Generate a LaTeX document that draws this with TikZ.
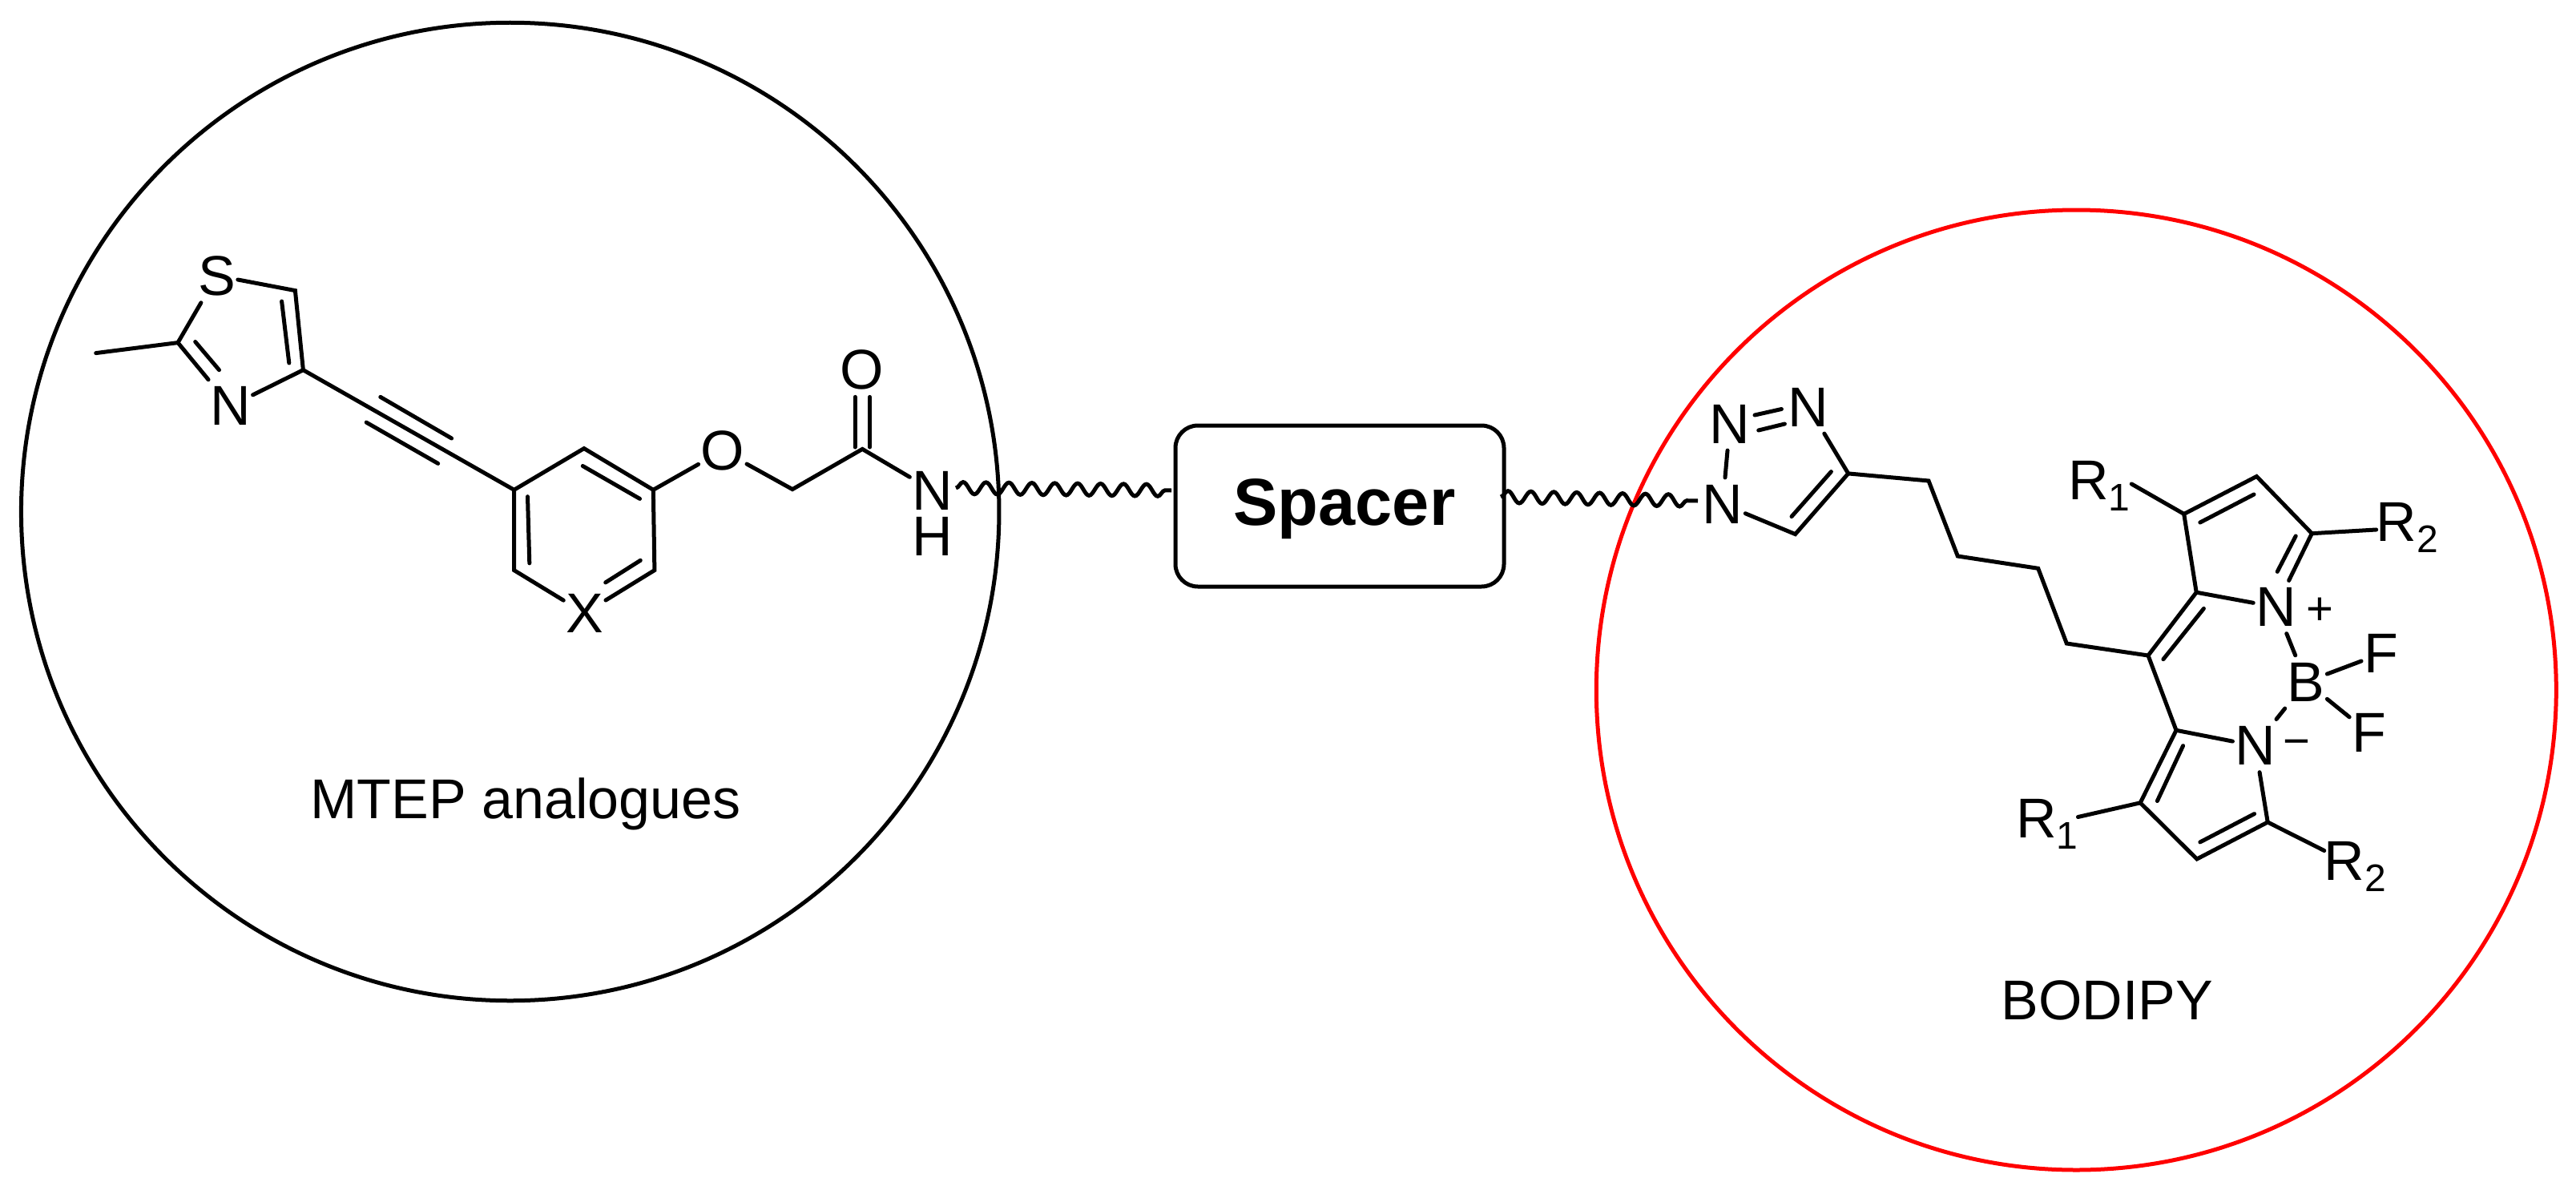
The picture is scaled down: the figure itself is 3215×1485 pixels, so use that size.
\documentclass[tikz,border=0pt]{standalone}
\usepackage{fontspec}
\setmainfont{Liberation Sans}
\usetikzlibrary{decorations.pathmorphing}
\newcommand{\Rlab}[1]{R\raisebox{-14pt}{\fontsize{48}{48}\selectfont #1}}
\newcommand{\innerb}[3]{\coordinate (ia) at (#2); \coordinate (ib) at (#3); \draw[bond] (ia) -- (ib);}
\tikzset{
  bond/.style={line width=5pt,line cap=round,line join=miter,black},
  atom/.style={font=\fontsize{70}{70}\selectfont,inner xsep=3pt,inner ysep=9pt,outer sep=0pt},
  rgroup/.style={font=\fontsize{70}{70}\selectfont,inner sep=0pt,outer sep=0pt,anchor=base west},
  charge/.style={font=\fontsize{58}{58}\selectfont,inner sep=0pt},
  caption/.style={font=\fontsize{70}{70}\selectfont,inner sep=0pt,anchor=base west},
  wave/.style={line width=5pt,decorate,decoration={snake,amplitude=7.5pt,segment length=28.6pt}},
  ringcircle/.style={circle,draw,line width=5pt,inner sep=0pt}
}
\begin{document}
\begin{tikzpicture}[x=1pt,y=-1pt]
\path[use as bounding box,fill=white] (0,0) rectangle (3215,1485);
% circles
\node[ringcircle,minimum size=1220.5pt] (blackc) at (636.7,638.5) {};
\node[ringcircle,draw=red,minimum size=1198pt] (redc) at (2591.3,861) {};
% spacer
\node[draw,line width=5pt,rounded corners=28pt,minimum width=410pt,minimum height=201pt,inner sep=0pt] (box) at (1672,631.5) {};
\node[font=\fontsize{83}{83}\selectfont\bfseries,inner sep=0pt,anchor=base] (sp) at (1678,655) {Spacer};
% MTEP atoms
\coordinate (me) at (119.7,440.6);
\coordinate (c2) at (222,427.6);
\node[atom] (S) at (270.5,344) {S};
\coordinate (c5) at (368.4,362.6);
\coordinate (c4) at (378.4,461.7);
\node[atom] (Nt) at (287.3,506.8) {N};
\coordinate (ra) at (641.6,611.3);
\coordinate (rb) at (728.9,559.6);
\coordinate (rc) at (815.3,611.3);
\coordinate (rd) at (816.9,711.6);
\coordinate (re) at (641.6,711.6);
\node[atom] (X) at (729.6,765.2) {X};
\node[atom] (O1) at (901.8,562.3) {O};
\coordinate (ch2) at (989,610.6);
\coordinate (co) at (1076.3,560.4);
\node[atom] (O2) at (1075.6,460.9) {O};
\node[atom] (Na) at (1163.6,612) {N};
\node[atom] (Ha) at (1163.6,669.5) {H};
\draw[bond] (me) -- (c2) -- (Nt);
\draw[bond] (c2) -- (S) -- (c5) -- (c4) -- (Nt);
\innerb{}{351.6,376}{360.8,453}
\innerb{}{243.7,426.5}{273.5,461.7}
\draw[bond] (c4) -- (ra) -- (rb) -- (rc) -- (rd) -- (X) -- (re) -- (ra);
\innerb{}{474.8,495.4}{563.6,547}
\innerb{}{457.2,527.1}{546.7,578.4}
\innerb{}{658.5,619.7}{660.8,702.8}
\innerb{}{727.3,581.5}{798.5,622.4}
\innerb{}{799.3,699.3}{755.7,726.9}
\draw[bond] (rc) -- (O1) -- (ch2) -- (co) -- (Na);
\innerb{}{1067.1,558}{1067.1,495.4}
\innerb{}{1085.5,558}{1085.5,495.4}
% waves
\coordinate (w1a) at (1193,609);
\coordinate (w1b) at (1462,612);
\coordinate (w2a) at (1873,620);
\coordinate (w2b) at (2119,625);
\draw[wave] (w1a) -- (w1b);
\draw[wave] (w2a) -- (w2b);
% triazole
\node[atom] (N1) at (2150,629) {N};
\node[atom] (N2) at (2159,529) {N};
\node[atom] (N3) at (2257,508) {N};
\coordinate (t4) at (2306.7,590.9);
\coordinate (t5) at (2240.6,666.6);
\draw[bond] (N1) -- (N2);
\innerb{}{2190,518}{2223.4,510.5}
\innerb{}{2194.7,537}{2227.4,529}
\draw[bond] (N3) -- (t4) -- (t5) -- (N1);
\innerb{}{2285.4,588.6}{2236,644.6}
% chain
\coordinate (k1) at (2407,600);
\coordinate (k2) at (2443.3,694);
\coordinate (k3) at (2543.7,709.3);
\coordinate (k4) at (2579.3,803);
\coordinate (meso) at (2681,818);
\draw[bond] (t4) -- (k1) -- (k2) -- (k3) -- (k4) -- (meso);
% BODIPY
\coordinate (u1) at (2741.2,739.2);
\coordinate (u2) at (2725.7,641.4);
\coordinate (u3) at (2816.4,594.5);
\coordinate (u4) at (2885.3,665.7);
\node[atom] (Np) at (2840.5,757.5) {N};
\node[atom] (B) at (2878,851) {B};
\node[atom] (F1) at (2971.4,815.8) {F};
\node[atom] (F2) at (2956.5,914.5) {F};
\node[atom] (Nm) at (2814.7,930.6) {N};
\node[charge] (plus) at (2895,763) {+};
\node[charge] (minus) at (2866.4,934.3) {−};
\coordinate (l1) at (2716,911.3);
\coordinate (l2) at (2671.2,1001.8);
\coordinate (l3) at (2741.8,1072);
\coordinate (l4) at (2830.2,1026);
\node[rgroup] (Ra) at (2581,623) {\Rlab{1}};
\node[rgroup] (Rb) at (2965.7,675.8) {\Rlab{2}};
\node[rgroup] (Rc) at (2516.2,1045.4) {\Rlab{1}};
\node[rgroup] (Rd) at (2900.8,1098) {\Rlab{2}};
\draw[bond] (meso) -- (u1) -- (u2) -- (u3) -- (u4) -- (Np) -- (u1);
\innerb{}{2750.4,759.4}{2699.9,822.7}
\innerb{}{2745.8,652}{2813,617}
\innerb{}{2865.2,668.9}{2842.2,713.4}
\draw[bond] (Ra.east) ++(2pt,2pt) coordinate (ra1) -- (u2);
\draw[bond] (u4) -- (Rb);
\draw[bond] (Np) -- (B);
\draw[bond] (B) -- (F1);
\draw[bond] (B) -- (F2);
\draw[bond] (B) -- (Nm);
\draw[bond] (meso) -- (l1) -- (Nm) -- (l4) -- (l3) -- (l2) -- (l1);
\innerb{}{2724.6,930.6}{2692.4,999.5}
\innerb{}{2745.8,1050.9}{2813.5,1015.6}
\draw[bond] (l2) -- (Rc);
\draw[bond] (l4) -- (Rd);
% captions
\node[caption] (cap1) at (387.3,1021.7) {MTEP analogues};
\node[caption] (cap2) at (2497.6,1272) {BODIPY};
\end{tikzpicture}
\end{document}
